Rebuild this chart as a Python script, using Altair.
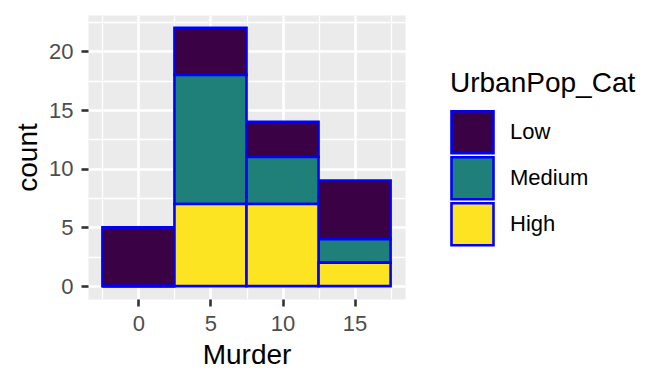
import altair as alt
import pandas as pd

# ---- data ----
bin_centers = [0, 5, 10, 15]
bin_width = 5
categories = ["Low", "Medium", "High"]
low_counts = [5, 4, 3, 5]
medium_counts = [0, 11, 4, 2]
high_counts = [0, 7, 7, 2]
fill_colors = ["#3A0245", "#1F807A", "#FDE423"]
x_major = [0, 5, 10, 15]
x_minor = [-2.5, 2.5, 7.5, 12.5, 17.5]
y_major = [0, 5, 10, 15, 20]
y_minor = [2.5, 7.5, 12.5, 17.5, 22.5]

rows = []
stack_order = {"High": 0, "Medium": 1, "Low": 2}
for cat, counts in zip(categories, [low_counts, medium_counts, high_counts]):
    for c, n in zip(bin_centers, counts):
        rows.append({
            "bin_start": c - bin_width / 2,
            "bin_end": c + bin_width / 2,
            "category": cat,
            "count": n,
            "order": stack_order[cat],
        })
df = pd.DataFrame(rows)

FONT = "Liberation Sans"
major_test = "datum.value % 5 === 0"

def axis(values, tick_size, label_pad, extent, title_pad):
    return alt.Axis(
        values=values,
        labelExpr=f"{major_test} ? datum.label : ''",
        grid=True,
        gridColor="white",
        gridWidth={"condition": {"test": major_test, "value": 2.6}, "value": 1.3},
        tickColor={"condition": {"test": major_test, "value": "#333333"}, "value": "transparent"},
        tickWidth=2.6,
        tickSize=tick_size,
        labelPadding=label_pad,
        labelFont=FONT,
        labelFontSize=22,
        labelColor="#4D4D4D",
        labelOverlap=False,
        labelFlush=False,
        titleFont=FONT,
        titleFontSize=28,
        titleFontWeight="normal",
        titleColor="black",
        titlePadding=title_pad,
        minExtent=extent,
        maxExtent=extent,
        domain=False,
    )

chart = (
    alt.Chart(df)
    .transform_stack(
        stack="count",
        groupby=["bin_start"],
        as_=["y0", "y1"],
        sort=[alt.SortField("order", order="ascending")],
    )
    .mark_rect(stroke="blue", strokeWidth=2.6)
    .encode(
        x=alt.X(
            "bin_start:Q",
            title="Murder",
            scale=alt.Scale(domain=[-3.5, 18.5], nice=False, zero=False),
            axis=axis(sorted(x_major + x_minor), 7, 7, 36, 6),
        ),
        x2="bin_end:Q",
        y=alt.Y(
            "y0:Q",
            title="count",
            scale=alt.Scale(domain=[-1.1, 23.1], nice=False, zero=False),
            axis=axis(sorted(y_major + y_minor), 7, 8, 39, 7),
        ),
        y2="y1:Q",
        color=alt.Color(
            "category:N",
            title="UrbanPop_Cat",
            scale=alt.Scale(domain=categories, range=fill_colors),
            legend=alt.Legend(
                orient="none",
                legendX=362,
                legendY=54.5,
                padding=0,
                titleFont=FONT,
                titleFontSize=28,
                titleFontWeight="normal",
                titleColor="black",
                titlePadding=12,
                titleLimit=400,
                labelFont=FONT,
                labelFontSize=22,
                labelColor="black",
                labelOffset=15,
                symbolType="square",
                symbolSize=1764,
                symbolStrokeColor="blue",
                symbolStrokeWidth=2.6,
                symbolOpacity=1,
                clipHeight=45.5,
                rowPadding=0,
            ),
        ),
    )
    .properties(
        width=317,
        height=284,
        autosize=alt.AutoSizeParams(type="none"),
        padding={"left": 80, "top": 7, "right": 259, "bottom": 77},
        background="white",
    )
    .configure_view(fill="#EBEBEB", stroke="transparent")
)

chart.save("out.html", embed_options={"renderer": "svg", "actions": False})
